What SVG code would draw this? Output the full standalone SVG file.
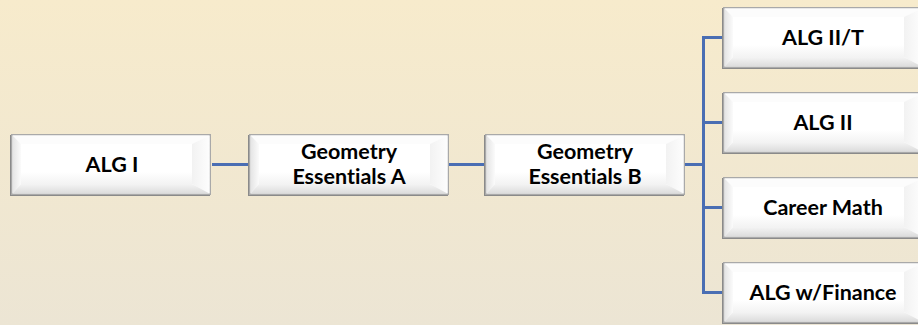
<svg xmlns="http://www.w3.org/2000/svg" xmlns:xlink="http://www.w3.org/1999/xlink" width="918" height="325" viewBox="0 0 918 325">
<defs>
<linearGradient id="bg" x1="0" y1="0" x2="0" y2="1">
<stop offset="0" stop-color="#f7ebcc"/>
<stop offset="1" stop-color="#ece5d4"/>
</linearGradient>
<linearGradient id="lb" x1="0" y1="0" x2="1" y2="0">
<stop offset="0" stop-color="#e4e4e4"/>
<stop offset="1" stop-color="#fbfbfb"/>
</linearGradient>
<linearGradient id="rb" x1="0" y1="0" x2="1" y2="0">
<stop offset="0" stop-color="#f2f2f2"/>
<stop offset="1" stop-color="#fdfdfd"/>
</linearGradient>
<linearGradient id="bb" x1="0" y1="0" x2="0" y2="1">
<stop offset="0" stop-color="#f4f4f4"/>
<stop offset="1" stop-color="#dcdcdc"/>
</linearGradient>
<linearGradient id="face" x1="0" y1="0" x2="0" y2="1">
<stop offset="0" stop-color="#ffffff"/>
<stop offset="0.7" stop-color="#ffffff"/>
<stop offset="1" stop-color="#f3f3f3"/>
</linearGradient>
<g id="box">
<rect x="-1" y="1" width="200" height="61" fill="#8a8a8a"/>
<rect x="0" y="0" width="200" height="61" fill="#a9a9a9"/>
<rect x="1.5" y="1.5" width="197" height="58" fill="#ffffff"/>
<polygon points="1.5,1.5 198.5,1.5 181,10 10,10" fill="#fcfcfc"/>
<polygon points="1.5,1.5 10,10 10,50 1.5,59.5" fill="url(#lb)"/>
<polygon points="198.5,1.5 198.5,59.5 181,50 181,10" fill="url(#rb)"/>
<polygon points="1.5,59.5 198.5,59.5 181,50 10,50" fill="url(#bb)"/>
<rect x="10" y="10" width="171" height="40" fill="url(#face)"/>
</g>
</defs>
<style>
.lbl{font-family:Lato,"Open Sans","Liberation Sans",sans-serif;font-weight:bold;font-size:21.5px;fill:#000;text-anchor:middle;font-variant-ligatures:none}
.con{stroke:#4a6eb3;stroke-width:3;fill:none}
</style>
<rect x="0" y="0" width="918" height="325" fill="url(#bg)"/>
<g id="connectors">
<line class="con" x1="212" y1="164.5" x2="249" y2="164.5"/>
<line class="con" x1="449" y1="164.5" x2="485" y2="164.5"/>
<line class="con" x1="685" y1="164.5" x2="703.5" y2="164.5"/>
<polyline class="con" points="723,37.5 703.5,37.5 703.5,292.5 723,292.5"/>
<line class="con" x1="703.5" y1="122.5" x2="723" y2="122.5"/>
<line class="con" x1="703.5" y1="207.5" x2="723" y2="207.5"/>
</g>
<g id="alg1" transform="translate(11,134)">
<use xlink:href="#box"/>
<text class="lbl" x="101" y="38">ALG I</text>
</g>
<g id="geoA" transform="translate(249,134)">
<use xlink:href="#box"/>
<text class="lbl" x="100" y="25">Geometry</text>
<text class="lbl" x="100" y="49.5">Essentials A</text>
</g>
<g id="geoB" transform="translate(485,134)">
<use xlink:href="#box"/>
<text class="lbl" x="100" y="25">Geometry</text>
<text class="lbl" x="100" y="49.5">Essentials B</text>
</g>
<g id="alg2t" transform="translate(723,7)">
<use xlink:href="#box"/>
<text class="lbl" x="100" y="37.5">ALG II/T</text>
</g>
<g id="alg2" transform="translate(723,92)">
<use xlink:href="#box"/>
<text class="lbl" x="100" y="37.5">ALG II</text>
</g>
<g id="career" transform="translate(723,177)">
<use xlink:href="#box"/>
<text class="lbl" x="100" y="37.5">Career Math</text>
</g>
<g id="finance" transform="translate(723,262)">
<use xlink:href="#box"/>
<text class="lbl" x="100" y="37.5">ALG w/Finance</text>
</g>
</svg>
